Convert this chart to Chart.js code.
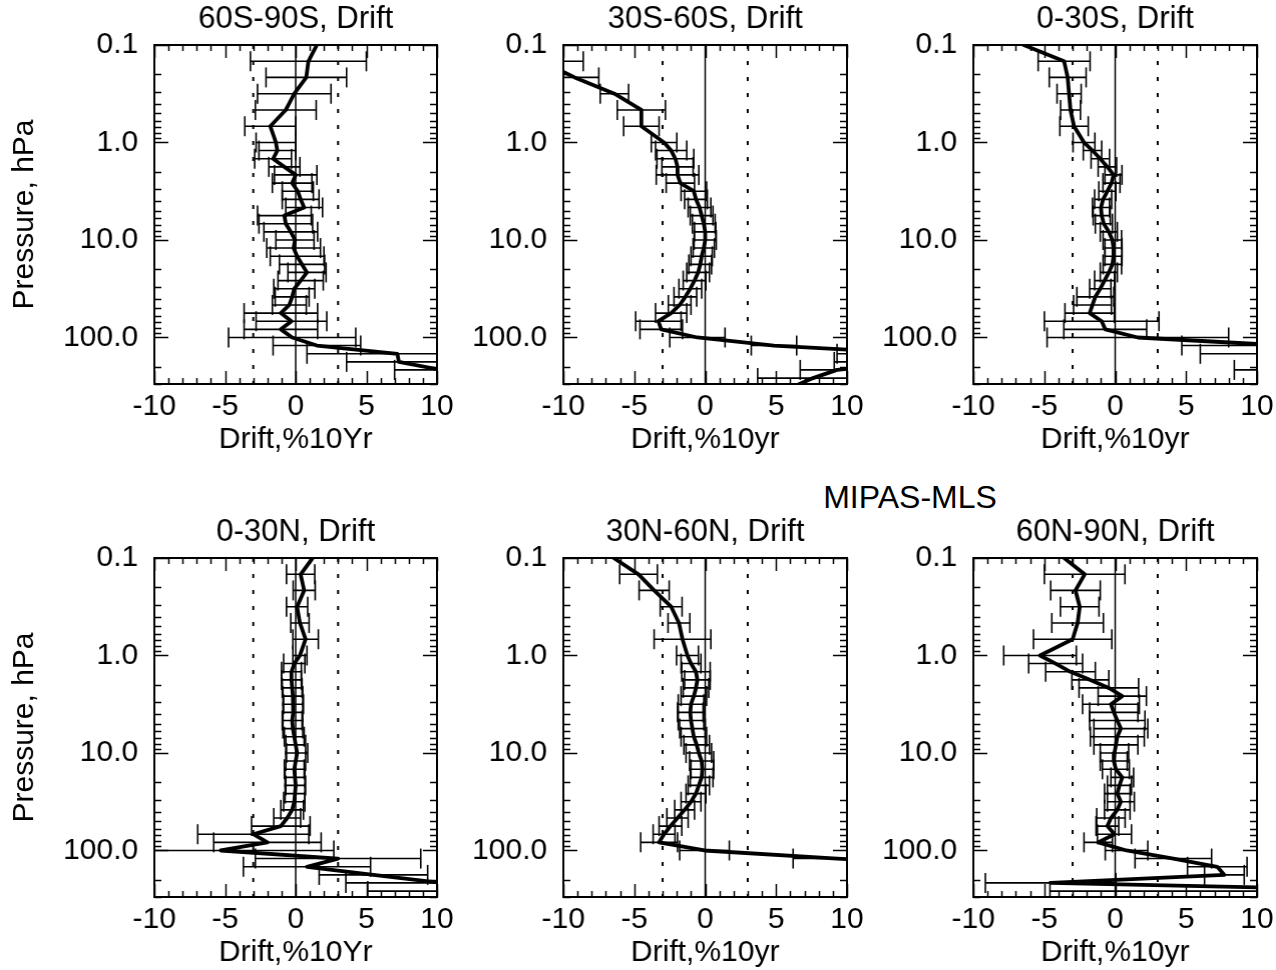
<!DOCTYPE html>
<html>
<head>
<meta charset="utf-8">
<script src="https://cdn.jsdelivr.net/npm/chart.js@4.4.1/dist/chart.umd.min.js"></script>
<style>
  html, body { margin: 0; padding: 0; background: #ffffff; }
  body { width: 1276px; height: 970px; overflow: hidden; position: relative; }
  .panel { position: absolute; left: 0; top: 0; }
  .panel canvas { display: block; }
  #supTitle {
    position: absolute; left: 910px; top: 497px; transform: translate(-50%, -50%);
    font-family: "Liberation Sans", Arial, Helvetica, sans-serif; font-size: 32px;
    line-height: 1; color: #000; white-space: nowrap;
  }
</style>
</head>
<body>
<div id="supTitle"></div>
<script>
// ---------------- DATA ----------------
const pressureHPa = [0.1, 0.147, 0.215, 0.316, 0.464, 0.681, 1.0, 1.21, 1.47, 1.78, 2.15, 2.61, 3.16, 3.83,
  4.64, 5.62, 6.81, 8.25, 10.0, 12.1, 14.7, 17.8, 21.5, 26.1, 31.6, 38.3, 46.4, 56.2, 68.1, 82.5,
  100, 121, 147, 178, 215, 261, 316];

const drift60S90S = [1.5, 0.9, 0.75, -0.1, -0.7, -1.8, -1.4, -1.3, -1.6, -0.8, 0.0, -0.25, 0.15, 0.35,
  0.6, -0.8, -0.7, -0.35, -0.05, -0.15, 0.1, 0.45, 0.8, 0.35, -0.1, -0.25, -0.45, -1.05, -0.3, -1.05,
  -0.25, 1.5, 7.2, 7.3, 10.3, null, null];
const err60S90S = [null, 4.1, 2.85, 2.6, 2.15, 1.8, 1.4, 1.3, 1.3, 1.1, 1.5, 1.4, 1.1, 1.3,
  1.3, 1.9, 1.9, 1.9, 1.35, 1.9, 1.9, 1.6, 1.35, 1.6, 1.45, 1.2, 1.2, 2.6, 2.5, 2.6,
  4.5, 3.1, 6.4, 3.7, 3.3, null, null];

const drift30S60S = [-16, -11.5, -9.2, -6.4, -4.5, -4.5, -2.9, -2.4, -2.1, -1.95, -1.95, -1.75, -0.8, -0.65,
  -0.4, -0.25, -0.1, 0.0, 0.0, -0.1, -0.25, -0.35, -0.5, -0.75, -1.05, -1.4, -1.8, -2.4, -3.3, -3.1,
  -0.55, 4.85, 15.3, 15, 9.3, 7.6, 6.3];
const err30S60S = [null, 2.9, 1.7, 1.0, 1.7, 1.25, 0.9, 1.1, 1.3, 1.1, 1.5, 1.0, 0.9, 0.8,
  0.8, 0.8, 0.8, 0.75, 0.78, 0.75, 0.75, 0.8, 0.8, 0.8, 0.8, 0.8, 0.8, 1.1, 1.6, 1.5,
  1.95, 1.6, 6.0, 5.9, 2.6, 3.9, null];

const drift0S30S = [-6.45, -3.6, -3.35, -3.25, -3.15, -2.9, -2.2, -1.6, -1.05, -0.55, -0.12, -0.26, -0.55, -0.85,
  -1.0, -0.95, -0.8, -0.45, -0.2, -0.12, -0.12, -0.2, -0.45, -0.75, -1.05, -1.4, -1.6, -1.8, -0.95, -0.7,
  1.6, 12, 10.1, 14, 12, null, null];
const err0S30S = [null, 1.83, 1.3, 0.85, 0.7, 1.0, 0.77, 0.65, 0.65, 0.65, 0.6, 0.6, 0.6, 0.6,
  0.6, 0.6, 0.6, 0.6, 0.65, 0.6, 0.6, 0.65, 0.6, 0.7, 0.75, 1.3, 1.33, 1.74, 4.04, 2.92,
  6.4, 7.3, 4.1, 3.0, 3.6, null, null];

const drift0N30N = [1.2, 0.35, 0.6, 0.1, 0.3, 0.7, 0.3, -0.1, -0.3, -0.3, -0.25, -0.2, -0.15, -0.2,
  -0.25, -0.2, -0.1, 0.0, 0.1, 0.0, -0.1, -0.05, 0.0, -0.05, -0.1, -0.25, -0.6, -1.05, -3.0, -2.0,
  -5.3, 3.0, 0.8, 5.5, 10.3, 12, null];
const err0N30N = [null, 1.0, 0.78, 0.75, 0.65, 0.9, 0.5, 0.75, 0.7, 0.7, 0.7, 0.7, 0.7, 0.7,
  0.7, 0.7, 0.7, 0.7, 0.75, 0.7, 0.7, 0.7, 0.7, 0.7, 0.75, 0.8, 0.95, 2.07, 3.93, 3.8,
  8.0, 5.85, 4.5, 3.84, 6.75, 6.9, null];

const drift30N60N = [-6.45, -4.7, -3.6, -2.4, -1.85, -1.6, -1.25, -1.0, -0.65, -0.55, -0.65, -0.8, -1.0, -1.05,
  -1.0, -0.9, -0.8, -0.6, -0.45, -0.25, -0.2, -0.25, -0.45, -0.65, -1.0, -1.45, -1.95, -2.45, -2.9, -3.25,
  -0.05, 9.3, 20, null, null, null, null];
const err30N60N = [null, 1.33, 1.06, 0.77, 0.77, 2.0, 0.77, 0.7, 1.0, 0.9, 0.9, 0.9, 0.9, 0.9,
  0.9, 0.9, 0.9, 0.9, 0.9, 0.85, 0.8, 0.8, 0.75, 0.7, 0.7, 0.7, 0.75, 0.8, 0.77, 1.3,
  1.75, 3.1, null, null, null, null, null];

const drift60N90N = [-3.6, -2.15, -2.8, -2.5, -2.65, -3.0, -5.3, -4.2, -3.15, -1.75, -0.45, 0.5, -0.3, -0.1,
  0.15, 0.4, 0.15, 0.05, -0.05, -0.1, 0.05, 0.5, 0.3, 0.15, 0.4, 0.15, -0.3, -0.55, -0.05, -1.2,
  0.8, 4.1, 7.2, 7.7, -4.55, 22, null];
const err60N90N = [null, 2.84, 1.75, 1.36, 1.82, 2.76, 2.56, 1.9, 1.75, 1.3, 2.1, 1.7, 2.0, 1.7,
  1.95, 1.9, 1.9, 1.55, 1.0, 0.95, 0.95, 0.8, 0.85, 0.9, 0.95, 0.9, 1.0, 0.8, 1.2, 1.0,
  1.5, 2.7, 2.1, 1.4, 4.6, 26.6, null];

const panelTitles = ['60S-90S, Drift', '30S-60S, Drift', '0-30S, Drift', '0-30N, Drift', '30N-60N, Drift', '60N-90N, Drift'];
const xAxisTitles = ['Drift,%10Yr', 'Drift,%10yr', 'Drift,%10yr', 'Drift,%10Yr', 'Drift,%10yr', 'Drift,%10yr'];
const yAxisTitle = 'Pressure, hPa';
const supTitleText = 'MIPAS-MLS';

const xTickValues = [-10, -5, 0, 5, 10];
const xTickLabels = ['-10', '-5', '0', '5', '10'];
const yTickValues = [0.1, 1, 10, 100];
const yTickLabels = ['0.1', '1.0', '10.0', '100.0'];
const xRange = [-10, 10];
const yRange = [0.1, 300];
const refLineX = [-3, 0, 3];

const panelSeries = [
  [drift60S90S, err60S90S], [drift30S60S, err30S60S], [drift0S30S, err0S30S],
  [drift0N30N, err0N30N], [drift30N60N, err30N60N], [drift60N90N, err60N90N]
];

// ---------------- LAYOUT / STYLE ----------------
const FAMILY = '"Liberation Sans", Arial, Helvetica, sans-serif';
const FONT = { family: FAMILY, size: 30, weight: 'normal' };
const TITLE_FONT = { family: FAMILY, size: 31, weight: 'normal' };
const colLeft = [154, 563, 973];
const colWidth = [282, 283, 283];
const rowTop = [45, 558];
const plotHeight = 339;

document.getElementById('supTitle').textContent = supTitleText;

// minor tick values on the log axis (1..9 per decade within range)
const yMinorValues = [];
yTickValues.forEach(d => {
  for (let m = 1; m <= 9; m++) {
    const v = Number((m * d).toPrecision(4));
    if (v >= yRange[0] && v <= yRange[1]) yMinorValues.push(v);
  }
});
const isDecade = v => Math.abs(Math.log10(v) - Math.round(Math.log10(v))) < 1e-9;

const frameTicksPlugin = {
  id: 'frameTicks',
  afterDatasetsDraw(chart) {
    const { ctx, chartArea: a } = chart;
    const xs = chart.scales.x, ys = chart.scales.y;
    ctx.save();
    ctx.strokeStyle = '#000';
    ctx.lineWidth = 1.5;
    ctx.beginPath();
    xs.ticks.forEach(t => {
      const px = Math.round(xs.getPixelForValue(t.value)) + 0.5;
      const len = xTickValues.includes(t.value) ? 13 : 6;
      ctx.moveTo(px, a.bottom); ctx.lineTo(px, a.bottom - len);
      ctx.moveTo(px, a.top); ctx.lineTo(px, a.top + len);
    });
    ys.ticks.forEach(t => {
      const py = Math.round(ys.getPixelForValue(t.value)) + 0.5;
      const len = isDecade(t.value) ? 14 : 7;
      ctx.moveTo(a.left, py); ctx.lineTo(a.left + len, py);
      ctx.moveTo(a.right, py); ctx.lineTo(a.right - len, py);
    });
    ctx.stroke();
    ctx.lineWidth = 2;
    ctx.strokeRect(a.left, a.top, a.right - a.left, a.bottom - a.top);
    ctx.restore();
  }
};

function makePanel(i) {
  const col = i % 3, row = Math.floor(i / 3);
  const [drift, err] = panelSeries[i];

  const curve = [];
  const bars = [];
  pressureHPa.forEach((p, k) => {
    const d = drift[k], e = err[k];
    if (d === null || d === undefined) return;
    curve.push({ x: d, y: p });
    if (e !== null && e !== undefined) {
      bars.push({ x: d - e, y: p }, { x: d + e, y: p }, { x: null, y: p });
    }
  });

  const datasets = refLineX.map(v => ({
    data: [{ x: v, y: yRange[0] }, { x: v, y: yRange[1] }],
    showLine: true, borderColor: '#000', borderWidth: v === 0 ? 1.5 : 2,
    borderDash: v === 0 ? [] : [4, 12], pointRadius: 0, clip: 0
  }));
  datasets.push({
    data: bars, showLine: true, borderColor: '#000', borderWidth: 1.6,
    pointStyle: 'line', pointRotation: 90, pointRadius: 10,
    pointBorderColor: '#000', pointBorderWidth: 1.6, pointBackgroundColor: '#000', clip: 0
  });
  datasets.push({
    data: curve, showLine: true, borderColor: '#000', borderWidth: 3.8,
    borderJoinStyle: 'round', borderCapStyle: 'round', pointRadius: 0, clip: 0
  });

  const wrap = document.createElement('div');
  wrap.className = 'panel';
  const canvas = document.createElement('canvas');
  const cw = 480, ch = 474;
  canvas.width = cw; canvas.height = ch;
  canvas.style.width = cw + 'px'; canvas.style.height = ch + 'px';
  wrap.appendChild(canvas);
  document.body.appendChild(wrap);

  const chart = new Chart(canvas, {
    type: 'scatter',
    data: { datasets },
    options: {
      responsive: false, maintainAspectRatio: false, animation: false, devicePixelRatio: 1,
      events: [],
      layout: { padding: 0 },
      plugins: {
        legend: { display: false },
        tooltip: { enabled: false },
        title: {
          display: true, text: panelTitles[i], fullSize: false, color: '#000',
          font: TITLE_FONT, padding: { top: 1, bottom: 6.8 }
        }
      },
      scales: {
        x: {
          type: 'linear', position: 'bottom', min: xRange[0], max: xRange[1],
          ticks: {
            stepSize: 1, autoSkip: false, maxRotation: 0, minRotation: 0, color: '#000', font: FONT, padding: 5,
            callback: v => { const k = xTickValues.indexOf(v); return k >= 0 ? xTickLabels[k] : ''; }
          },
          grid: { display: false, drawTicks: false },
          border: { display: false },
          title: { display: true, text: xAxisTitles[i], color: '#000', font: FONT, padding: { top: 0, bottom: 16 } },
          afterFit: s => { s.height = 90; }
        },
        y: {
          type: 'logarithmic', position: 'left', reverse: true, min: yRange[0], max: yRange[1],
          afterBuildTicks: s => { s.ticks = yMinorValues.map(v => ({ value: v, major: isDecade(v) })); },
          ticks: {
            autoSkip: false, color: '#000', font: FONT, padding: 16,
            callback: v => { const k = yTickValues.findIndex(t => Math.abs(t - v) < 1e-9 * Math.max(1, t)); return k >= 0 ? yTickLabels[k] : ''; }
          },
          grid: { display: false, drawTicks: false },
          border: { display: false },
          title: { display: col === 0, text: yAxisTitle, color: '#000', font: FONT, padding: { top: 7, bottom: 0 } },
          afterFit: s => { s.width = 154; }
        }
      }
    },
    plugins: [frameTicksPlugin]
  });

  // fit chart area to the reference panel box
  let a = chart.chartArea;
  const dw = colWidth[col] - (a.right - a.left);
  const dh = plotHeight - (a.bottom - a.top);
  if (dw !== 0 || dh !== 0) chart.resize(cw + dw, ch + dh);
  a = chart.chartArea;
  wrap.style.left = (colLeft[col] - a.left) + 'px';
  wrap.style.top = (rowTop[row] - a.top) + 'px';
}

for (let i = 0; i < 6; i++) makePanel(i);
</script>
</body>
</html>
